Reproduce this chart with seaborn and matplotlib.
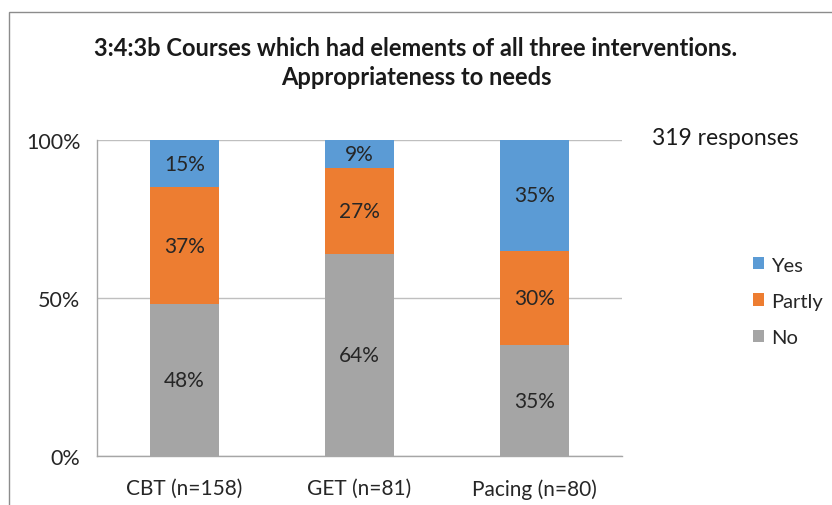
import pandas as pd
import seaborn as sns
import matplotlib.pyplot as plt
from matplotlib.patches import Rectangle

# Data
courses = ['CBT (n=158)', 'GET (n=81)', 'Pacing (n=80)']
no_pct = [48, 64, 35]
partly_pct = [37, 27, 30]
yes_pct = [15, 9, 35]

colors = {'Yes': '#5B9BD5', 'Partly': '#ED7D31', 'No': '#A5A5A5'}

df = pd.DataFrame({'course': courses, 'No': no_pct, 'Partly': partly_pct, 'Yes': yes_pct})
df['cum_no'] = df['No']
df['cum_partly'] = df['No'] + df['Partly']
df['cum_yes'] = df['No'] + df['Partly'] + df['Yes']

sns.set_style('white')
plt.rcParams['font.family'] = ['Lato', 'DejaVu Sans']

fig = plt.figure(figsize=(8.32, 5.06), dpi=100)
ax = fig.add_axes([0.1166, 0.0968, 0.631, 0.6245])

# stack by overdrawing cumulative totals
sns.barplot(data=df, x='course', y='cum_yes', color=colors['Yes'], width=0.39,
            saturation=1, linewidth=0, ax=ax, label='Yes', zorder=2)
sns.barplot(data=df, x='course', y='cum_partly', color=colors['Partly'], width=0.39,
            saturation=1, linewidth=0, ax=ax, label='Partly', zorder=3)
sns.barplot(data=df, x='course', y='cum_no', color=colors['No'], width=0.39,
            saturation=1, linewidth=0, ax=ax, label='No', zorder=4)

# segment labels
for i, row in df.iterrows():
    for col, base in [('No', 0), ('Partly', row['cum_no']), ('Yes', row['cum_partly'])]:
        ax.text(i, base + row[col] / 2, f"{row[col]}%", ha='center', va='center',
                fontsize=15, color='#262626', zorder=5)

ax.set_ylim(0, 100)
ax.set_xlim(-0.5, 2.5)
ax.set_yticks([0, 50, 100])
ax.set_yticklabels(['0%', '50%', '100%'])
ax.set_xlabel('')
ax.set_ylabel('')
ax.grid(axis='y', color='#BFBFBF', linewidth=1, zorder=0)
ax.set_axisbelow(True)

for s in ['top', 'right']:
    ax.spines[s].set_visible(False)
for s in ['left', 'bottom']:
    ax.spines[s].set_color('#A6A6A6')
    ax.spines[s].set_linewidth(1)

ax.set_xticks([-0.5, 0.5, 1.5, 2.5], minor=True)
ax.tick_params(axis='x', which='major', length=0, pad=16, labelsize=15, labelcolor='#262626')
ax.tick_params(axis='x', which='minor', length=6, color='#A6A6A6', direction='out')
ax.tick_params(axis='y', length=6, color='#A6A6A6', direction='out', pad=6,
               labelsize=15.5, labelcolor='#262626')

# legend (Yes, Partly, No top to bottom)
handles, labels = ax.get_legend_handles_labels()
ax.legend(handles, labels, loc='center left', bbox_to_anchor=(1.215, 0.49), frameon=False,
          fontsize=14.5, handlelength=0.55, handleheight=0.55, handletextpad=0.35,
          labelspacing=0.95, labelcolor='#262626')

fig.text(0.5, 0.876, '3:4:3b Courses which had elements of all three interventions.\nAppropriateness to needs',
         ha='center', va='center', fontsize=17, fontweight='bold', color='#1a1a1a',
         linespacing=1.3)
fig.text(0.784, 0.727, '319 responses', ha='left', va='center', fontsize=16.5, color='#1a1a1a')

# outer chart frame (cropped at right and bottom)
fig.patches.append(Rectangle((9 / 832, -0.1), 1.2, 1 - 13 / 506 + 0.1, transform=fig.transFigure,
                             fill=False, edgecolor='#8C8C8C', linewidth=1))

fig.savefig('out.png', dpi=100)
